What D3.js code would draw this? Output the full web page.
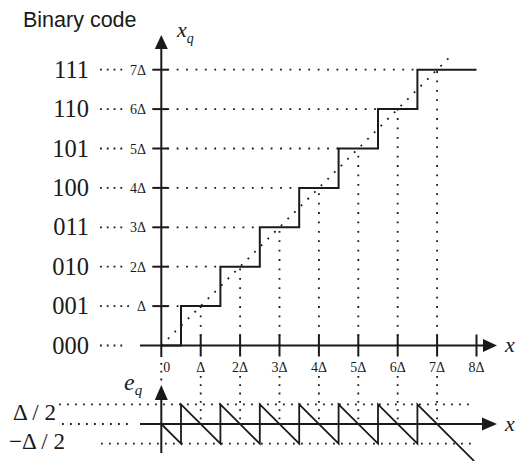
<!DOCTYPE html>
<html><head><meta charset="utf-8">
<script src="https://cdn.jsdelivr.net/npm/d3@7"></script>
<style>
html,body{margin:0;padding:0;background:#fff;}
svg{display:block;}
</style></head>
<body>
<svg id="chart" width="518" height="461"></svg>
<script>
// ---- data ----
const binaryCodes = ["000","001","010","011","100","101","110","111"];
const levels = [0,1,2,3,4,5,6,7];
const levelLabels = ["", "Δ", "2Δ", "3Δ", "4Δ", "5Δ", "6Δ", "7Δ"];
const xTicks = [0,1,2,3,4,5,6,7,8];
const xTickLabels = ["0","Δ","2Δ","3Δ","4Δ","5Δ","6Δ","7Δ","8Δ"];
const thresholds = [0.5,1.5,2.5,3.5,4.5,5.5,6.5];
const stairX = [0,0.5,0.5,1.5,1.5,2.5,2.5,3.5,3.5,4.5,4.5,5.5,5.5,6.5,6.5,8];
const stairY = [0,0,1,1,2,2,3,3,4,4,5,5,6,6,7,7];
const diagX = [0,7.4];
const diagY = [0,7.4];
const errX = [0,0.5,0.5,1.5,1.5,2.5,2.5,3.5,3.5,4.5,4.5,5.5,5.5,6.5,6.5,7.94];
const errY = [0,-0.5,0.5,-0.5,0.5,-0.5,0.5,-0.5,0.5,-0.5,0.5,-0.5,0.5,-0.5,0.5,-0.94];
const errLevels = [0.5,-0.5];
const errLabels = ["Δ / 2","−Δ / 2"];

// ---- layout ----
const svg = d3.select("#chart");
const x = d3.scaleLinear().domain([0,8]).range([161.3,476.5]);
const y = d3.scaleLinear().domain([0,7]).range([345.5,69.7]);
const e = d3.scaleLinear().domain([-1,1]).range([463.4,384.6]);
const serif = "'Liberation Serif','Times New Roman',serif";
const sans = "'Liberation Sans',Arial,sans-serif";
const ink = "#1a1a1a";
const dot = {w:1.8, d:"1.8,7.6"};

function dline(x1,y1,x2,y2,dash){
  svg.append("line").attr("x1",x1).attr("y1",y1).attr("x2",x2).attr("y2",y2)
    .attr("stroke",ink).attr("stroke-width",dot.w).attr("stroke-dasharray",dash||dot.d);
}
function sline(x1,y1,x2,y2,w){
  svg.append("line").attr("x1",x1).attr("y1",y1).attr("x2",x2).attr("y2",y2)
    .attr("stroke",ink).attr("stroke-width",w||2);
}

// ---- dotted guides, main plot ----
levels.slice(1).forEach((k,i)=>{
  dline(x(0)+6, y(k), x(thresholds[i]), y(k));
  dline(x(k), y(0), x(k), y(k));
});
xTicks.slice(0,8).forEach(k=>{
  if(k===0) dline(x(k), 363, x(k), 386, "1.8,6");
  else dline(x(k), 376, x(k), e(0), "1.8,6.5");
});
svg.append("line").attr("x1",x(diagX[0])).attr("y1",y(diagY[0])).attr("x2",x(diagX[1])).attr("y2",y(diagY[1]))
  .attr("stroke",ink).attr("stroke-width",1.8).attr("stroke-dasharray","1.8,7.6");

// ---- y-axis labels ----
levels.forEach((k)=>{
  svg.append("text").attr("x",89).attr("y",y(k)+8).attr("text-anchor","end")
    .attr("font-family",serif).attr("font-size",24.5).attr("fill",ink).text(binaryCodes[k]);
  let left = 123;
  if(levelLabels[k]){
    const t = svg.append("text").attr("x",146).attr("y",y(k)+5).attr("text-anchor","end")
      .attr("font-family",serif).attr("font-size",14).attr("fill",ink).text(levelLabels[k]);
    left = 146 - t.node().getComputedTextLength() - 3;
  }
  dline(100, y(k), left, y(k), "1.8,5");
  if(k>0) sline(x(0)-9, y(k), x(0)+7, y(k), 2);
});

// ---- staircase ----
svg.append("path").datum(stairX.map((v,i)=>[v,stairY[i]]))
  .attr("d", d3.line().x(d=>x(d[0])).y(d=>y(d[1])))
  .attr("fill","none").attr("stroke",ink).attr("stroke-width",2);

// ---- main axes ----
sline(140, y(0), 484, y(0), 2);
svg.append("path").attr("d",`M483,${y(0)-6.5} L497,${y(0)} L483,${y(0)+6.5} Z`).attr("fill",ink);
sline(x(0), 357, x(0), 47, 2);
svg.append("path").attr("d",`M${x(0)-6.5},49 L${x(0)},35 L${x(0)+6.5},49 Z`).attr("fill",ink);
xTicks.slice(1).forEach(k=> sline(x(k), y(0)-11, x(k), y(0)+11, 2));
xTicks.forEach((k,i)=>{
  svg.append("text").attr("x", k===0 ? x(0)+2 : x(k)).attr("y",372)
    .attr("text-anchor", k===0 ? "start" : "middle")
    .attr("font-family",serif).attr("font-size",14).attr("fill",ink).text(xTickLabels[i]);
});

svg.append("text").attr("x",23).attr("y",27).attr("font-family",sans).attr("font-size",21.5).attr("fill",ink).text("Binary code");
const xq = svg.append("text").attr("x",177).attr("y",37).attr("font-family",serif).attr("font-style","italic").attr("font-size",22).attr("fill",ink);
xq.append("tspan").text("x");
xq.append("tspan").attr("font-size",14).attr("dy",6).text("q");
svg.append("text").attr("x",505).attr("y",352).attr("font-family",serif).attr("font-style","italic").attr("font-size",22).attr("fill",ink).text("x");

// ---- error plot ----
errLevels.forEach((v,i)=>{
  dline(i===0?59:101, e(v), 472, e(v), "1.8,6.2");
  svg.append("text").attr("x", i===0?13:9).attr("y", i===0?420:449)
    .attr("font-family",serif).attr("font-size",23).attr("fill",ink).text(errLabels[i]);
});
dline(62, e(0), 134, e(0), "1.8,6.2");
sline(140, e(0), 484, e(0), 2);
svg.append("path").attr("d",`M482,${e(0)-6.5} L497,${e(0)} L482,${e(0)+6.5} Z`).attr("fill",ink);
sline(x(0), 453, x(0), 398, 2);
svg.append("path").attr("d",`M${x(0)-6.5},400 L${x(0)},385 L${x(0)+6.5},400 Z`).attr("fill",ink);
svg.append("path").datum(errX.map((v,i)=>[v,errY[i]]))
  .attr("d", d3.line().x(d=>x(d[0])).y(d=>e(d[1])))
  .attr("fill","none").attr("stroke",ink).attr("stroke-width",1.8);
const eq = svg.append("text").attr("x",124).attr("y",390).attr("font-family",serif).attr("font-style","italic").attr("font-size",24).attr("fill",ink);
eq.append("tspan").text("e");
eq.append("tspan").attr("font-size",15).attr("dy",5).text("q");
svg.append("text").attr("x",505).attr("y",431).attr("font-family",serif).attr("font-style","italic").attr("font-size",22).attr("fill",ink).text("x");
</script>
</body></html>
